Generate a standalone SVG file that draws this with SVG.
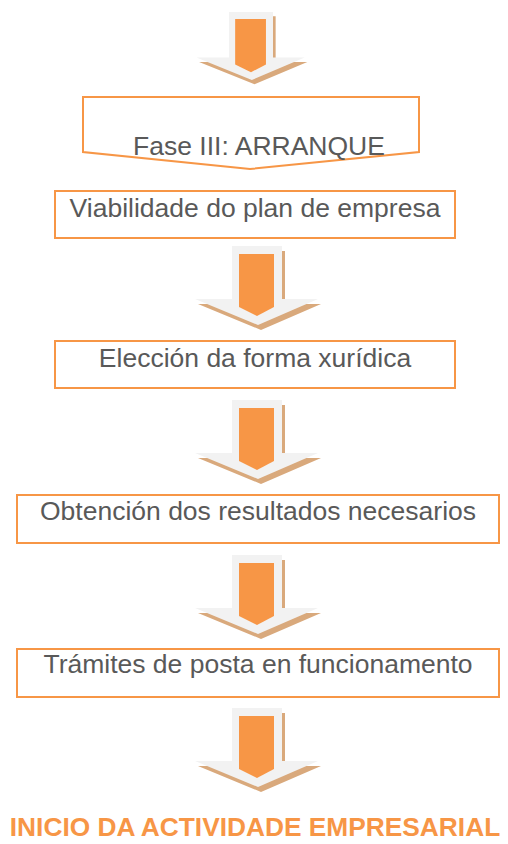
<svg xmlns="http://www.w3.org/2000/svg" xmlns:xlink="http://www.w3.org/1999/xlink" width="508" height="844" viewBox="0 0 508 844">
<style>
.box{fill:#ffffff;stroke:#f79646;stroke-width:2}
.lbl{font-family:"Liberation Sans",Arial,sans-serif;font-size:26.5px;fill:#595959;text-anchor:middle}
.fin{font-family:"Liberation Sans",Arial,sans-serif;font-size:26.3px;font-weight:bold;fill:#f79646;text-anchor:middle}
</style>
<defs>
<g id="arrow">
<path d="M3,5 H53 V58 H89 L29,84 L-34,58 H3 Z" fill="#d9a97c"/>
<path d="M0,0 H50 V53 H86 L26,79 L-37,53 H0 Z" fill="#f2f2f2"/>
<path d="M7,8 H42 V61 L25,70 L7,61 Z" fill="#f79646"/>
</g>
</defs>
<rect width="508" height="844" fill="#ffffff"/>
<g id="connectors">
<use xlink:href="#arrow" transform="translate(229,12) scale(0.88,0.86)"/>
<use xlink:href="#arrow" transform="translate(232,246)"/>
<use xlink:href="#arrow" transform="translate(232,400)"/>
<use xlink:href="#arrow" transform="translate(232,555)"/>
<use xlink:href="#arrow" transform="translate(232,708)"/>
</g>
<g id="fase3">
<path class="box" d="M83,97 H419 V152 L250,169 L83,152 Z"/>
<text class="lbl" x="259" y="155">Fase III: ARRANQUE</text>
</g>
<g id="viabilidade">
<rect class="box" x="55" y="191" width="400" height="47"/>
<text class="lbl" x="255" y="217">Viabilidade do plan de empresa</text>
</g>
<g id="eleccion">
<rect class="box" x="55" y="341" width="400" height="47"/>
<text class="lbl" x="255" y="367">Elección da forma xurídica</text>
</g>
<g id="obtencion">
<rect class="box" x="17" y="495" width="482" height="48"/>
<text class="lbl" x="258" y="520">Obtención dos resultados necesarios</text>
</g>
<g id="tramites">
<rect class="box" x="17" y="649" width="482" height="48"/>
<text class="lbl" x="258" y="673">Trámites de posta en funcionamento</text>
</g>
<g id="inicio">
<text class="fin" x="255" y="836">INICIO DA ACTIVIDADE EMPRESARIAL</text>
</g>
</svg>
